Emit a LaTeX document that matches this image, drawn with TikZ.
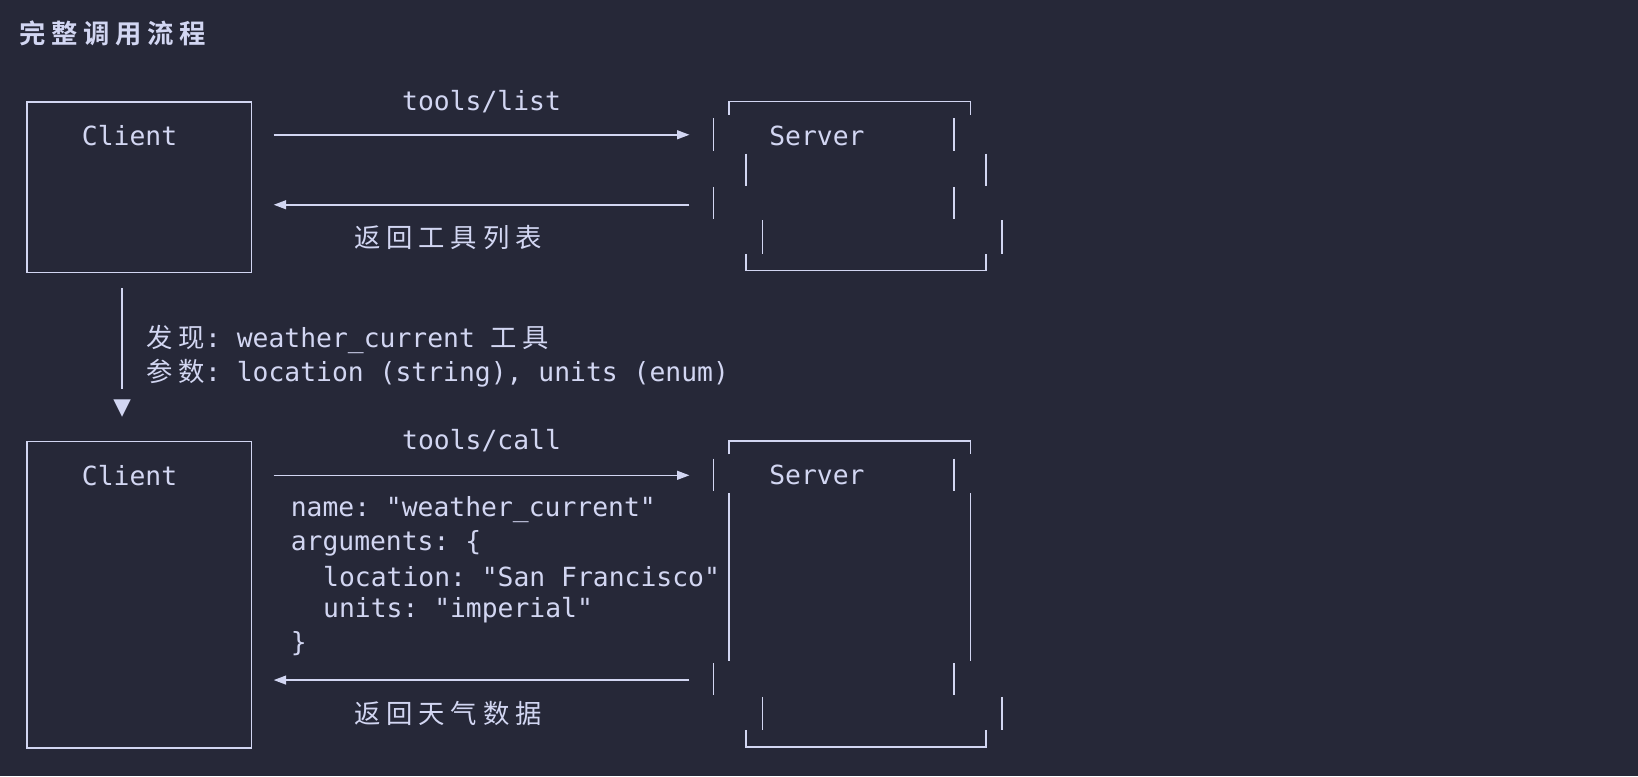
\documentclass[tikz,border=0pt]{standalone}
\usepackage{fontspec}
\setmonofont{DejaVu Sans Mono}
\newfontfamily\cjk[LetterSpace=22]{Noto Sans CJK SC}
\newfontfamily\cjkb[LetterSpace=22]{Noto Sans CJK SC Bold}
\usetikzlibrary{arrows.meta}
\definecolor{bgnavy}{HTML}{262838}
\definecolor{ink}{HTML}{D2D6F2}
\tikzset{
  txt/.style={anchor=west, inner sep=0pt, text=ink, font=\ttfamily\fontsize{15pt}{17pt}\selectfont},
  cjktxt/.style={txt, font=\cjk\fontsize{15pt}{17pt}\selectfont},
  line/.style={draw=ink, line width=0.9pt},
  msg/.style={line, -{Triangle[length=7pt,width=5pt]}}
}
\begin{document}
\begin{tikzpicture}[x=0.020893cm,y=-0.020893cm]
\fill[bgnavy] (0,0) rectangle (1568,743);
% title
\node[txt, font=\cjkb\fontsize{15pt}{17pt}\selectfont] (title) at (18,32) {完整调用流程};
% first exchange
\node[line, minimum width=215*0.020893cm, minimum height=163*0.020893cm, inner sep=0pt, anchor=north west] (client1) at (25,97) {};
\node[txt, anchor=center] (clab1) at (124,130) {Client};
\draw[line] (698,110) -- (698,97) -- (929,97) -- (929,110);
\draw[line] (683,113) -- (683,145) (913,113) -- (913,145);
\draw[line] (714,147) -- (714,178) (944,147) -- (944,178);
\draw[line] (683,179) -- (683,210) (913,179) -- (913,210);
\draw[line] (730,211) -- (730,243) (959,211) -- (959,243);
\draw[line] (714,243) -- (714,259) -- (944,259) -- (944,243);
\node[txt, anchor=center] (slab1) at (782,130) {Server};
\coordinate (c1a) at (262,129); \coordinate (s1a) at (660,129);
\coordinate (c1b) at (262,196); \coordinate (s1b) at (660,196);
\draw[msg] (c1a) -- (s1a);
\draw[msg] (s1b) -- (c1b);
\node[txt, anchor=center] (req1) at (461,97) {tools/list};
\node[cjktxt] (resp1) at (339,227) {返回工具列表};
% discovery
\coordinate (d1) at (117,276); \coordinate (d2) at (117,372);
\draw[line] (d1) -- (d2);
\node[txt, anchor=center] (tri) at (117,391) {\fontspec{DejaVu Sans}\fontsize{13pt}{14pt}\selectfont ▼};
\node[txt] (found) at (140,325) {{\cjk 发现}: weather\_current {\cjk 工具}};
\node[txt] (params) at (140,357) {{\cjk 参数}: location (string), units (enum)};
% second exchange
\node[line, minimum width=215*0.020893cm, minimum height=293*0.020893cm, inner sep=0pt, anchor=north west] (client2) at (25,422) {};
\node[txt, anchor=center] (clab2) at (124,455) {Client};
\draw[line] (698,435) -- (698,422) -- (929,422) -- (929,435);
\draw[line] (683,439) -- (683,470) (913,439) -- (913,470);
\draw[line] (698,472) -- (698,633) (929,472) -- (929,633);
\draw[line] (683,635) -- (683,665) (913,635) -- (913,665);
\draw[line] (730,667) -- (730,699) (959,667) -- (959,699);
\draw[line] (714,699) -- (714,715) -- (944,715) -- (944,699);
\node[txt, anchor=center] (slab2) at (782,455) {Server};
\coordinate (c2a) at (262,455); \coordinate (s2a) at (660,455);
\coordinate (c2b) at (262,651); \coordinate (s2b) at (660,651);
\draw[msg] (c2a) -- (s2a);
\draw[msg] (s2b) -- (c2b);
\node[txt, anchor=center] (req2) at (461,422) {tools/call};
\node[txt] (a1) at (278,488) {name: "weather\_current"};
\node[txt] (a2) at (278,520) {arguments: \{};
\node[txt] (a3) at (309,552) {location: "San Francisco"};
\node[txt] (a4) at (309,584) {units: "imperial"};
\node[txt] (a5) at (278,616) {\}};
\node[cjktxt] (resp2) at (339,683) {返回天气数据};
\end{tikzpicture}
\end{document}
